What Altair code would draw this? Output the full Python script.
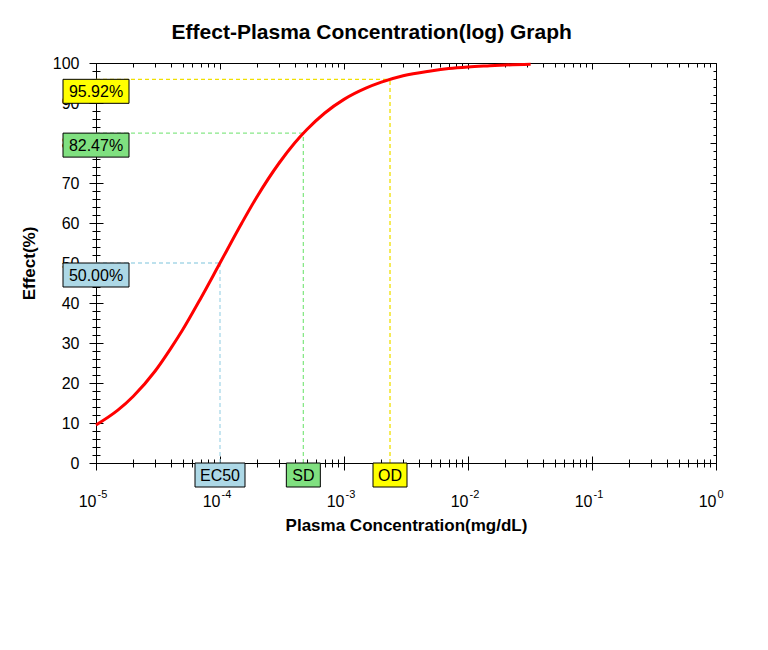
import altair as alt
import pandas as pd

# ---- data ----
conc = [1e-5, 1.5e-5, 2e-5, 3e-5, 4e-5, 5e-5, 7e-5, 1e-4, 1.5e-4, 2e-4, 3e-4, 4e-4,
        5e-4, 7e-4, 1e-3, 1.5e-3, 2e-3, 3e-3, 5e-3, 7e-3, 1e-2, 1.5e-2, 2e-2, 3.2e-2]
effect = [9.5, 13.2, 16.7, 23.0, 28.6, 33.3, 41.2, 50.0, 60.0, 66.7, 75.0, 80.0,
          83.3, 87.5, 90.9, 93.7, 95.2, 96.8, 98.0, 98.6, 99.0, 99.3, 99.5, 99.7]

marker_names = ["EC50", "SD", "OD"]
marker_conc = [1.0e-4, 4.7e-4, 2.35e-3]
marker_effect = [50.00, 82.47, 95.92]
marker_pct = ["50.00%", "82.47%", "95.92%"]
box_colors = ["#add8e6", "#80e080", "#ffff00"]
line_colors = ["#a8d8e8", "#88e888", "#f0e000"]

x_range = [1e-5, 1.0]
y_range = [0, 100]
x_tick_values = [m * 10.0 ** d for d in range(-5, 0) for m in range(1, 10)] + [1.0]
y_tick_values = list(range(0, 101, 2))

curve_df = pd.DataFrame({"conc": conc, "effect": effect})
ann_df = pd.DataFrame({
    "name": marker_names, "conc": marker_conc, "effect": marker_effect,
    "pct": marker_pct, "xmin": x_range[0], "ymin": y_range[0],
})

FONT = "Liberation Sans"
IS_DEC = "abs(log(datum.value)/LN10 - round(log(datum.value)/LN10)) < 0.001"
IS_TEN = "datum.value % 10 === 0"

xs = alt.Scale(type="log", domain=x_range, nice=False)
ys = alt.Scale(domain=y_range, nice=False, zero=True)

common = dict(grid=False, domain=False, tickColor="black", tickWidth=1, zindex=0,
              labelFont=FONT, labelColor="black", labelFlush=False, labelOverlap=False)

x_main = alt.Axis(orient="bottom", values=x_tick_values,
                  tickSize={"expr": f"{IS_DEC} ? 7 : 4"},
                  labelExpr=f"{IS_DEC} ? '10' : ''", labelAlign="right", labelBaseline="top",
                  labelFontSize=16, labelPadding=23,
                  title="Plasma Concentration(mg/dL)", titleFont=FONT, titleFontSize=17,
                  titleFontWeight="bold", titleColor="black", titlePadding=8, **common)
y_main = alt.Axis(orient="left", values=y_tick_values,
                  tickSize={"expr": f"{IS_TEN} ? 7 : 4"},
                  labelExpr=f"{IS_TEN} ? datum.label : ''", labelFontSize=16, labelPadding=10,
                  title="Effect(%)", titleFont=FONT, titleFontSize=17, titleFontWeight="bold",
                  titleColor="black", titlePadding=14, **common)

x_inner = alt.Axis(orient="bottom", values=x_tick_values,
                   tickSize={"expr": f"{IS_DEC} ? -7 : -4"},
                   labelExpr=f"{IS_DEC} ? '' + round(log(datum.value)/LN10) : ''",
                   labelAlign="left", labelBaseline="top", labelFontSize=11,
                   labelPadding=32, labelOffset=1, title=None, **common)
y_inner = alt.Axis(orient="left", values=y_tick_values,
                   tickSize={"expr": f"{IS_TEN} ? -7 : -4"}, labels=False, title=None, **common)
x_top = alt.Axis(orient="top", values=x_tick_values,
                 tickSize={"expr": f"{IS_DEC} ? -6 : -4"}, labels=False, title=None, **common)
y_right = alt.Axis(orient="right", values=y_tick_values,
                   tickSize={"expr": f"{IS_TEN} ? -6 : -3"}, labels=False, title=None, **common)

helper1 = alt.Chart(curve_df).mark_point(opacity=0).encode(
    x=alt.X("conc:Q", scale=xs, axis=x_inner), y=alt.Y("effect:Q", scale=ys, axis=y_inner))
helper2 = alt.Chart(curve_df).mark_point(opacity=0).encode(
    x=alt.X("conc:Q", scale=xs, axis=x_top), y=alt.Y("effect:Q", scale=ys, axis=y_right))

line_color = alt.Color("name:N", scale=alt.Scale(domain=marker_names, range=line_colors), legend=None)
box_fill = alt.Fill("name:N", scale=alt.Scale(domain=marker_names, range=box_colors), legend=None)

hrules = alt.Chart(ann_df).mark_rule(strokeDash=[4, 3], strokeWidth=1.3).encode(
    x=alt.X("xmin:Q", scale=xs, axis=None), x2="conc:Q",
    y=alt.Y("effect:Q", scale=ys, axis=None), color=line_color)
vrules = alt.Chart(ann_df).mark_rule(strokeDash=[4, 3], strokeWidth=1.3).encode(
    x=alt.X("conc:Q", scale=xs, axis=None),
    y=alt.Y("ymin:Q", scale=ys, axis=None), y2="effect:Q", color=line_color)

curve = alt.Chart(curve_df).mark_line(color="#ff0000", strokeWidth=3, interpolate="monotone").encode(
    x=alt.X("conc:Q", scale=xs, axis=x_main), y=alt.Y("effect:Q", scale=ys, axis=y_main))

left_boxes = alt.Chart(ann_df).mark_rect(stroke="black", strokeWidth=1, xOffset=-33, x2Offset=33,
                                         yOffset=0, y2Offset=24).encode(
    x=alt.X("xmin:Q", scale=xs, axis=None), x2="xmin:Q",
    y=alt.Y("effect:Q", scale=ys, axis=None), y2="effect:Q", fill=box_fill)
left_text = alt.Chart(ann_df).mark_text(font=FONT, fontSize=16, color="black", dy=13,
                                        align="center", baseline="middle").encode(
    x=alt.X("xmin:Q", scale=xs, axis=None), y=alt.Y("effect:Q", scale=ys, axis=None), text="pct:N")

wide_boxes = alt.Chart(ann_df).transform_filter("length(datum.name) > 2").mark_rect(
    stroke="black", strokeWidth=1, xOffset=-25, x2Offset=25, yOffset=0, y2Offset=24).encode(
    x=alt.X("conc:Q", scale=xs, axis=None), x2="conc:Q",
    y=alt.Y("ymin:Q", scale=ys, axis=None), y2="ymin:Q", fill=box_fill)
narrow_boxes = alt.Chart(ann_df).transform_filter("length(datum.name) <= 2").mark_rect(
    stroke="black", strokeWidth=1, xOffset=-17, x2Offset=17, yOffset=0, y2Offset=24).encode(
    x=alt.X("conc:Q", scale=xs, axis=None), x2="conc:Q",
    y=alt.Y("ymin:Q", scale=ys, axis=None), y2="ymin:Q", fill=box_fill)
bottom_text = alt.Chart(ann_df).mark_text(font=FONT, fontSize=16, color="black", dy=13,
                                          align="center", baseline="middle").encode(
    x=alt.X("conc:Q", scale=xs, axis=None), y=alt.Y("ymin:Q", scale=ys, axis=None), text="name:N")

chart = alt.layer(
    helper1, helper2, hrules, vrules, curve,
    left_boxes, left_text, wide_boxes, narrow_boxes, bottom_text,
).resolve_axis(
    x="independent", y="independent"
).resolve_scale(
    color="independent", fill="independent"
).properties(
    width=620, height=400,
    title=alt.TitleParams("Effect-Plasma Concentration(log) Graph", font=FONT, fontSize=21,
                          fontWeight="bold", color="black", anchor="middle", frame="bounds",
                          offset=12),
    padding={"left": 12, "top": 14, "right": 22, "bottom": 12},
    background="white",
).configure_view(stroke="black", strokeWidth=1)

chart.save("out.html", embed_options={"renderer": "svg", "actions": False})
